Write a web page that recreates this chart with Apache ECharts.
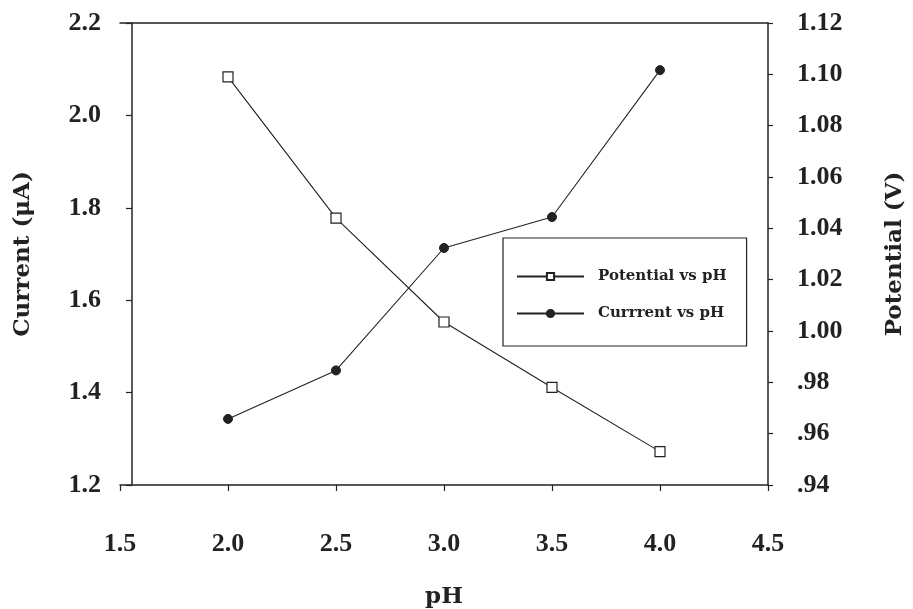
<!DOCTYPE html>
<html>
<head>
<meta charset="utf-8">
<script src="https://cdn.jsdelivr.net/npm/echarts@6/dist/echarts.min.js"></script>
<style>html,body{margin:0;padding:0;background:#fff}#c{width:913px;height:609px}</style>
</head>
<body>
<div id="c"></div>
<script>
const pH = [2.0, 2.5, 3.0, 3.5, 4.0];
const currentValues = [1.343, 1.448, 1.713, 1.780, 2.098];
const potentialValues = [1.099, 1.044, 1.0035, 0.978, 0.953];
const xTicks = [1.5, 2.0, 2.5, 3.0, 3.5, 4.0, 4.5];
const leftTicks = [1.2, 1.4, 1.6, 1.8, 2.0, 2.2];
const rightTicks = [0.94, 0.96, 0.98, 1.00, 1.02, 1.04, 1.06, 1.08, 1.10, 1.12];

const FONT = '"Liberation Serif", "DejaVu Serif", serif';
const WIDE = '"DejaVu Serif", "Liberation Serif", serif';
const INK = '#222';
const chart = echarts.init(document.getElementById('c'), null, {renderer: 'canvas'});
const lab = {fontFamily: FONT, fontWeight: 'bold', fontSize: 26, color: INK};
const ttl = {fontFamily: WIDE, fontWeight: 'bold', fontSize: 23, color: INK};

chart.setOption({
  backgroundColor: '#fff',
  animation: false,
  grid: {left: 120, right: 145, top: 23, bottom: 124, containLabel: false, outerBoundsMode: 'none'},
  legend: {
    orient: 'vertical',
    left: 503, top: 238,
    padding: [31, 20, 25, 13],
    itemGap: 22,
    itemWidth: 67, itemHeight: 9,
    borderColor: INK, borderWidth: 1.2,
    backgroundColor: '#fff',
    textStyle: {fontFamily: WIDE, fontWeight: 'bold', fontSize: 15, lineHeight: 15, color: INK, padding: [0, 0, 0, 9]},
    data: ['Potential vs pH', 'Currrent vs pH']
  },
  xAxis: [{
    type: 'value', min: xTicks[0], max: xTicks[xTicks.length - 1], interval: 0.5,
    position: 'bottom',
    name: 'pH', nameLocation: 'middle', nameGap: 101,
    nameTextStyle: ttl,
    axisLine: {show: true, onZero: false, lineStyle: {color: INK, width: 1.5}},
    axisTick: {show: true, inside: false, length: 6, lineStyle: {color: INK, width: 1.2}},
    axisLabel: Object.assign({}, lab, {margin: 46, formatter: v => v.toFixed(1)}),
    splitLine: {show: false}
  }, {
    type: 'value', min: xTicks[0], max: xTicks[xTicks.length - 1], interval: 0.5,
    position: 'top',
    axisLine: {show: true, onZero: false, lineStyle: {color: INK, width: 1.5}},
    axisTick: {show: false}, axisLabel: {show: false}, splitLine: {show: false}
  }],
  yAxis: [{
    type: 'value', min: leftTicks[0], max: leftTicks[leftTicks.length - 1], interval: 0.2,
    position: 'left', offset: -12,
    name: 'Current (μA)', nameLocation: 'middle', nameGap: 97, nameRotate: 90,
    nameTextStyle: ttl,
    axisLine: {show: true, onZero: false, lineStyle: {color: INK, width: 1.5}},
    axisTick: {show: true, inside: false, length: 6, lineStyle: {color: INK, width: 1.2}},
    axisLabel: Object.assign({}, lab, {margin: 31, formatter: v => v.toFixed(1)}),
    splitLine: {show: false}
  }, {
    type: 'value', min: rightTicks[0], max: rightTicks[rightTicks.length - 1], interval: 0.02,
    position: 'right',
    name: 'Potential (V)', nameLocation: 'middle', nameGap: 116, nameRotate: 90,
    nameTextStyle: ttl,
    axisLine: {show: true, onZero: false, lineStyle: {color: INK, width: 1.5}},
    axisTick: {show: true, inside: false, length: 5, lineStyle: {color: INK, width: 1.2}},
    axisLabel: Object.assign({}, lab, {margin: 29, formatter: v => {
      const s = v.toFixed(2); return s.startsWith('0') ? s.slice(1) : s;
    }}),
    splitLine: {show: false}
  }],
  series: [{
    name: 'Potential vs pH', type: 'line', xAxisIndex: 0, yAxisIndex: 1,
    data: pH.map((x, i) => [x, potentialValues[i]]),
    symbol: 'rect', symbolSize: 10, showAllSymbol: true,
    itemStyle: {color: '#fff', borderColor: INK, borderWidth: 1.2},
    lineStyle: {color: INK, width: 1.1}
  }, {
    name: 'Currrent vs pH', type: 'line', xAxisIndex: 0, yAxisIndex: 0,
    data: pH.map((x, i) => [x, currentValues[i]]),
    symbol: 'circle', symbolSize: 9, showAllSymbol: true,
    itemStyle: {color: INK, borderColor: INK, borderWidth: 1},
    lineStyle: {color: INK, width: 1.1}
  }]
});
</script>
</body>
</html>
